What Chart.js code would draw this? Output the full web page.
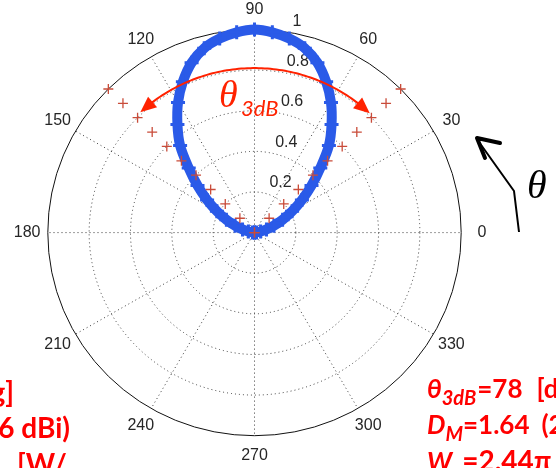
<!DOCTYPE html>
<html>
<head>
<meta charset="utf-8">
<script src="https://cdn.jsdelivr.net/npm/chart.js@4/dist/chart.umd.min.js"></script>
<style>
  html, body { margin: 0; padding: 0; background: #fff; overflow: hidden; }
  #wrap { width: 556px; height: 468px; position: relative; }
</style>
</head>
<body>
<div id="wrap"><canvas id="polar" width="556" height="468"></canvas></div>
<script>
// Half-wave dipole: normalised radiation pattern, one value per 5 degrees
const patternAngles = [0, 5, 10, 15, 20, 25, 30, 35, 40, 45, 50, 55, 60, 65, 70, 75, 80, 85, 90,
                       95, 100, 105, 110, 115, 120, 125, 130, 135, 140, 145, 150, 155, 160, 165, 170, 175, 180];
const patternGain = [0, 0.01, 0.03, 0.06, 0.10, 0.15, 0.21, 0.28, 0.36, 0.45, 0.56, 0.65, 0.74, 0.82, 0.89, 0.94, 0.97, 0.99, 1.00,
                     0.99, 0.97, 0.94, 0.89, 0.82, 0.74, 0.65, 0.56, 0.45, 0.36, 0.28, 0.21, 0.15, 0.10, 0.06, 0.03, 0.01, 0];

// Reference markers along the 45 / 135 degree directions
const markerAngles = [45, 135];
const markerRadii = [0, 0.1, 0.2, 0.3, 0.4, 0.5, 0.6, 0.7, 0.8, 0.9, 1.0];

// Polar grid
const radialTicks = [0.2, 0.4, 0.6, 0.8, 1];
const radialTickLabels = ['0.2', '0.4', '0.6', '0.8', '1'];
const angleTicks = [0, 30, 60, 90, 120, 150, 180, 210, 240, 270, 300, 330];

// Half-power beam arc (degrees)
const beamArc = [46.5, 133];

// Layout of the polar frame on the canvas
const W = 556, H = 468;
const CX = 254.5, CY = 232.6, RX = 206.7, RY = 203.1;

const rad = d => d * Math.PI / 180;
const polarXY = (deg, r) => ({ x: r * Math.cos(rad(deg)), y: r * Math.sin(rad(deg)) });

const patternPoints = patternAngles.map((a, i) => polarXY(a, patternGain[i]));
const markerPoints = [];
markerAngles.forEach(a => markerRadii.forEach(r => markerPoints.push(polarXY(a, r))));

function px(chart, deg, r) {
  const p = polarXY(deg, r);
  return { x: chart.scales.x.getPixelForValue(p.x), y: chart.scales.y.getPixelForValue(p.y) };
}

const polarGrid = {
  id: 'polarGrid',
  beforeDatasetsDraw(chart) {
    const ctx = chart.ctx;
    const xs = chart.scales.x, ys = chart.scales.y;
    const c = px(chart, 0, 0);
    const rx = r => xs.getPixelForValue(r) - xs.getPixelForValue(0);
    const ry = r => ys.getPixelForValue(0) - ys.getPixelForValue(r);
    ctx.save();
    // dotted rings
    ctx.strokeStyle = '#3a3a3a';
    ctx.lineWidth = 1;
    ctx.setLineDash([1, 3]);
    radialTicks.slice(0, -1).forEach(r => {
      ctx.beginPath();
      ctx.ellipse(c.x, c.y, rx(r), ry(r), 0, 0, Math.PI * 2);
      ctx.stroke();
    });
    // dotted spokes
    angleTicks.forEach(a => {
      const e = px(chart, a, 1);
      ctx.beginPath();
      ctx.moveTo(c.x, c.y);
      ctx.lineTo(e.x, e.y);
      ctx.stroke();
    });
    // solid outer ring
    ctx.setLineDash([]);
    ctx.strokeStyle = '#111';
    ctx.beginPath();
    ctx.ellipse(c.x, c.y, rx(1), ry(1), 0, 0, Math.PI * 2);
    ctx.stroke();
    // angle labels
    ctx.fillStyle = '#262626';
    ctx.font = '16px "Liberation Sans", Arial, sans-serif';
    ctx.textAlign = 'center';
    ctx.textBaseline = 'middle';
    angleTicks.forEach(a => {
      const p = px(chart, a, 1.1);
      ctx.fillText(String(a), p.x, p.y);
    });
    // radial labels
    ctx.textAlign = 'left';
    ctx.textBaseline = 'bottom';
    radialTicks.forEach((r, i) => {
      const p = px(chart, 82, r + 0.01);
      ctx.fillText('  ' + radialTickLabels[i], p.x, p.y);
    });
    ctx.restore();
  }
};

function arrowHead(ctx, tip, from, len, half, fill) {
  const dx = tip.x - from.x, dy = tip.y - from.y;
  const d = Math.hypot(dx, dy);
  const ux = dx / d, uy = dy / d;
  const bx = tip.x - ux * len, by = tip.y - uy * len;
  ctx.beginPath();
  ctx.moveTo(tip.x, tip.y);
  ctx.lineTo(bx - uy * half, by + ux * half);
  ctx.lineTo(bx + uy * half, by - ux * half);
  ctx.closePath();
  ctx.fillStyle = fill;
  ctx.fill();
}

// Draws a run of text pieces (main text, subscripts, gaps) on one baseline
function richText(ctx, x, y, parts, align) {
  let total = 0;
  parts.forEach(p => { ctx.font = p.font; total += ctx.measureText(p.t).width + (p.gap || 0); });
  let cx = align === 'right' ? x - total : x;
  ctx.textAlign = 'left';
  ctx.textBaseline = 'alphabetic';
  parts.forEach(p => {
    ctx.font = p.font;
    cx += p.gap || 0;
    ctx.fillText(p.t, cx, y + (p.dy || 0));
    cx += ctx.measureText(p.t).width;
  });
}

const annotations = {
  id: 'annotations',
  afterDatasetsDraw(chart) {
    const ctx = chart.ctx;
    ctx.save();
    // beamwidth arc with arrowheads on both ends
    const red = '#ff2200';
    const r = 0.81;
    ctx.strokeStyle = red;
    ctx.lineWidth = 2;
    ctx.beginPath();
    for (let a = beamArc[0] + 4; a <= beamArc[1] - 4 + 1e-6; a += 1) {
      const p = px(chart, a, r);
      if (a === beamArc[0] + 4) ctx.moveTo(p.x, p.y); else ctx.lineTo(p.x, p.y);
    }
    ctx.stroke();
    arrowHead(ctx, px(chart, beamArc[0], r), px(chart, beamArc[0] + 5, r), 16, 7, red);
    arrowHead(ctx, px(chart, beamArc[1], r), px(chart, beamArc[1] - 5, r), 16, 7, red);

    // beamwidth label
    ctx.fillStyle = red;
    ctx.textAlign = 'left';
    ctx.textBaseline = 'alphabetic';
    ctx.font = 'italic 38px "Liberation Serif", "DejaVu Serif", serif';
    ctx.fillText('θ', 219, 107);
    ctx.font = 'italic 22px Lato, "Liberation Sans", sans-serif';
    ctx.fillText('3dB', 241, 116);

    // angle direction arrow
    ctx.strokeStyle = '#000';
    ctx.fillStyle = '#000';
    ctx.lineWidth = 2;
    ctx.lineJoin = 'round';
    ctx.beginPath();
    ctx.moveTo(519, 232);
    ctx.lineTo(514, 191);
    ctx.lineTo(479, 142);
    ctx.stroke();
    ctx.lineWidth = 4;
    ctx.lineCap = 'round';
    ctx.beginPath();
    ctx.moveTo(500, 143);
    ctx.lineTo(477, 138);
    ctx.lineTo(485, 158);
    ctx.stroke();
    ctx.font = 'italic 40px "Liberation Serif", "DejaVu Serif", serif';
    ctx.fillText('θ', 527, 198);

    // figures of merit
    ctx.fillStyle = '#ff0000';
    const big = 'bold 26px Lato, "Liberation Sans", sans-serif';
    const bigL = 'bold 28px Lato, "Liberation Sans", sans-serif';
    const bigI = 'italic bold 26px Lato, "Liberation Sans", sans-serif';
    const sub = 'italic bold 20px Lato, "Liberation Sans", sans-serif';
    richText(ctx, 427, 398, [
      { t: 'θ', font: bigI }, { t: '3dB', font: sub, dy: 7 }, { t: '=78', font: big, gap: 1 }, { t: '[deg]', font: big, gap: 14 }
    ]);
    richText(ctx, 427, 434, [
      { t: 'D', font: bigI }, { t: 'M', font: sub, dy: 7 }, { t: '=1.64', font: big }, { t: '(2.15 dBi)', font: big, gap: 12 }
    ]);
    richText(ctx, 427, 471, [
      { t: 'W', font: bigI }, { t: '=2.44π', font: bigL, gap: 10 }
    ]);
    richText(ctx, 14, 402, [
      { t: 'θ', font: bigI }, { t: '3dB', font: sub, dy: 7 }, { t: '=90 [deg]', font: bigL }
    ], 'right');
    richText(ctx, 70, 438, [
      { t: 'D', font: bigI }, { t: 'M', font: sub, dy: 7 }, { t: '=1.5 (1.76 dBi)', font: bigL }
    ], 'right');
    richText(ctx, 17, 474, [{ t: '[W/', font: bigL }]);
    ctx.restore();
  }
};

new Chart(document.getElementById('polar'), {
  type: 'scatter',
  data: {
    datasets: [
      {
        label: 'markers',
        data: markerPoints,
        showLine: false,
        pointStyle: 'cross',
        pointRadius: 5,
        pointBorderWidth: 1.3,
        pointBorderColor: '#c94c3a',
        borderColor: '#c94c3a',
        order: 0
      },
      {
        label: 'pattern',
        data: patternPoints,
        showLine: true,
        tension: 0.35,
        borderColor: '#2a5ae8',
        borderWidth: 10,
        pointStyle: 'cross',
        pointRadius: 7,
        pointBorderWidth: 3,
        pointBorderColor: '#2a5ae8',
        order: 1
      }
    ]
  },
  options: {
    responsive: false,
    animation: false,
    layout: { padding: 0, autoPadding: false },
    plugins: { legend: { display: false }, tooltip: { enabled: false } },
    scales: {
      x: { type: 'linear', display: false, min: -CX / RX, max: (W - CX) / RX },
      y: { type: 'linear', display: false, min: -(H - CY) / RY, max: CY / RY }
    }
  },
  plugins: [polarGrid, annotations]
});
</script>
</body>
</html>
